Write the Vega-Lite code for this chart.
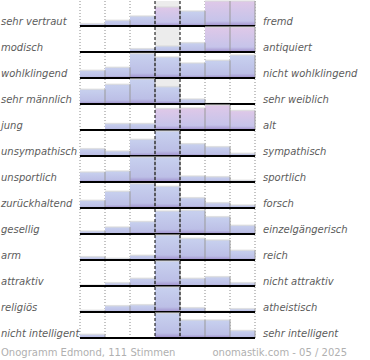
{
  "$schema": "https://vega.github.io/schema/vega-lite/v6.json",
  "padding": {"left": 1, "top": 0, "right": 0, "bottom": 0},
  "autosize": {"type": "pad"},
  "background": "white",
  "data": {"values": [
    {"row":0,"col":0,"v":2.3,"left":"sehr vertraut","right":"fremd"},{"row":0,"col":1,"v":5.7},{"row":0,"col":2,"v":10},{"row":0,"col":3,"v":19},{"row":0,"col":4,"v":15},{"row":0,"col":5,"v":25},{"row":0,"col":6,"v":25},
    {"row":1,"col":0,"v":0,"left":"modisch","right":"antiquiert"},{"row":1,"col":1,"v":0},{"row":1,"col":2,"v":3.3},{"row":1,"col":3,"v":6},{"row":1,"col":4,"v":9.3},{"row":1,"col":5,"v":25},{"row":1,"col":6,"v":25},
    {"row":2,"col":0,"v":7.7,"left":"wohlklingend","right":"nicht wohlklingend"},{"row":2,"col":1,"v":10.7},{"row":2,"col":2,"v":24.5},{"row":2,"col":3,"v":21},{"row":2,"col":4,"v":15},{"row":2,"col":5,"v":17.7},{"row":2,"col":6,"v":23},
    {"row":3,"col":0,"v":14.7,"left":"sehr männlich","right":"sehr weiblich"},{"row":3,"col":1,"v":19.7},{"row":3,"col":2,"v":25},{"row":3,"col":3,"v":17.3},{"row":3,"col":4,"v":5},{"row":3,"col":5,"v":0.8},{"row":3,"col":6,"v":0},
    {"row":4,"col":0,"v":0,"left":"jung","right":"alt"},{"row":4,"col":1,"v":6.5},{"row":4,"col":2,"v":6.5},{"row":4,"col":3,"v":21.5},{"row":4,"col":4,"v":22},{"row":4,"col":5,"v":25},{"row":4,"col":6,"v":19.5},
    {"row":5,"col":0,"v":7.3,"left":"unsympathisch","right":"sympathisch"},{"row":5,"col":1,"v":5},{"row":5,"col":2,"v":16.7},{"row":5,"col":3,"v":25},{"row":5,"col":4,"v":12.3},{"row":5,"col":5,"v":9.3},{"row":5,"col":6,"v":2.7},
    {"row":6,"col":0,"v":10,"left":"unsportlich","right":"sportlich"},{"row":6,"col":1,"v":11},{"row":6,"col":2,"v":25},{"row":6,"col":3,"v":25},{"row":6,"col":4,"v":6},{"row":6,"col":5,"v":5.3},{"row":6,"col":6,"v":1.7},
    {"row":7,"col":0,"v":7.7,"left":"zurückhaltend","right":"forsch"},{"row":7,"col":1,"v":16.7},{"row":7,"col":2,"v":24.3},{"row":7,"col":3,"v":21.7},{"row":7,"col":4,"v":10.3},{"row":7,"col":5,"v":5.3},{"row":7,"col":6,"v":3},
    {"row":8,"col":0,"v":3,"left":"gesellig","right":"einzelgängerisch"},{"row":8,"col":1,"v":7},{"row":8,"col":2,"v":12.5},{"row":8,"col":3,"v":23},{"row":8,"col":4,"v":23.7},{"row":8,"col":5,"v":17.3},{"row":8,"col":6,"v":8.7},
    {"row":9,"col":0,"v":3.3,"left":"arm","right":"reich"},{"row":9,"col":1,"v":1.7},{"row":9,"col":2,"v":4.7},{"row":9,"col":3,"v":25},{"row":9,"col":4,"v":21.7},{"row":9,"col":5,"v":20},{"row":9,"col":6,"v":9.7},
    {"row":10,"col":0,"v":1,"left":"attraktiv","right":"nicht attraktiv"},{"row":10,"col":1,"v":3.3},{"row":10,"col":2,"v":7.7},{"row":10,"col":3,"v":25},{"row":10,"col":4,"v":7.7},{"row":10,"col":5,"v":9.3},{"row":10,"col":6,"v":3.3},
    {"row":11,"col":0,"v":1.7,"left":"religiös","right":"atheistisch"},{"row":11,"col":1,"v":6.3},{"row":11,"col":2,"v":7.3},{"row":11,"col":3,"v":25},{"row":11,"col":4,"v":4.3},{"row":11,"col":5,"v":1},{"row":11,"col":6,"v":3.3},
    {"row":12,"col":0,"v":3.7,"left":"nicht intelligent","right":"sehr intelligent"},{"row":12,"col":1,"v":0},{"row":12,"col":2,"v":0},{"row":12,"col":3,"v":25},{"row":12,"col":4,"v":18},{"row":12,"col":5,"v":18},{"row":12,"col":6,"v":7.5}
  ]},
  "facet": {"row": {"field": "row", "type": "ordinal", "title": null, "header": {"labels": false, "title": null}}},
  "spacing": {"row": 1},
  "bounds": "flush",
  "spec": {
    "width": 175,
    "height": 25,
    "layer": [
      {
        "transform": [{"filter": "datum.col == 3 && (datum.row == 0 || datum.row == 1 || datum.row == 3)"}],
        "mark": {"type": "bar", "color": "#ececec"},
        "encoding": {
          "x": {"field": "col", "type": "ordinal", "scale": {"domain": [0,1,2,3,4,5,6], "paddingInner": 0, "paddingOuter": 0}, "axis": null},
          "y": {"datum": 25, "type": "quantitative", "scale": {"domain": [0, 25]}, "axis": null},
          "y2": {"datum": 0}
        }
      },
      {
        "transform": [{"filter": "datum.col != 3 && datum.col != 4"}],
        "mark": {"type": "rule", "color": "#8a8a8a", "strokeDash": [1, 2], "strokeWidth": 1},
        "encoding": {"x": {"field": "col", "type": "ordinal", "bandPosition": 0, "scale": {"domain": [0,1,2,3,4,5,6], "paddingInner": 0, "paddingOuter": 0}, "axis": null}}
      },
      {
        "transform": [{"filter": "datum.col == 6"}],
        "mark": {"type": "rule", "color": "#8a8a8a", "strokeDash": [1, 2], "strokeWidth": 1},
        "encoding": {"x": {"field": "col", "type": "ordinal", "bandPosition": 1}}
      },
      {
        "transform": [{"filter": "indexof(['0-3','0-5','0-6','1-5','1-6','4-3','4-4','4-5','4-6'], datum.row + '-' + datum.col) < 0"}],
        "mark": {"type": "bar", "color": {"gradient": "linear", "x1": 0, "y1": 0, "x2": 0, "y2": 1, "stops": [{"offset": 0, "color": "#c8d1ef"}, {"offset": 0.8, "color": "#bcbfe6"}, {"offset": 1, "color": "#9e8dcb"}]}},
        "encoding": {
          "x": {"field": "col", "type": "ordinal"},
          "y": {"field": "v", "type": "quantitative", "scale": {"domain": [0, 25]}, "axis": null}
        }
      },
      {
        "transform": [{"filter": "indexof(['0-3','0-5','0-6','1-5','1-6','4-3','4-4','4-5','4-6'], datum.row + '-' + datum.col) >= 0"}],
        "mark": {"type": "bar", "color": {"gradient": "linear", "x1": 0, "y1": 0, "x2": 0, "y2": 1, "stops": [{"offset": 0, "color": "#dfc8e8"}, {"offset": 0.8, "color": "#c6c4ea"}, {"offset": 1, "color": "#9e8dcb"}]}},
        "encoding": {
          "x": {"field": "col", "type": "ordinal"},
          "y": {"field": "v", "type": "quantitative", "scale": {"domain": [0, 25]}, "axis": null}
        }
      },
      {
        "transform": [{"filter": "datum.v > 0"}],
        "mark": {"type": "tick", "color": "#d8d8d8", "thickness": 1.5, "size": 25},
        "encoding": {
          "x": {"field": "col", "type": "ordinal"},
          "y": {"field": "v", "type": "quantitative", "scale": {"domain": [0, 25]}, "axis": null}
        }
      },
      {
        "transform": [{"filter": "datum.v > 0"}],
        "mark": {"type": "rule", "color": "#999999", "strokeWidth": 1},
        "encoding": {
          "x": {"field": "col", "type": "ordinal", "bandPosition": 1},
          "y": {"field": "v", "type": "quantitative", "scale": {"domain": [0, 25]}, "axis": null},
          "y2": {"datum": 0}
        }
      },
      {
        "transform": [{"filter": "datum.col == 0"}],
        "mark": {"type": "rule", "color": "#000000", "strokeWidth": 2},
        "encoding": {"y": {"datum": 0, "type": "quantitative", "scale": {"domain": [0, 25]}, "axis": null}}
      },
      {
        "transform": [{"filter": "datum.col == 3 || datum.col == 4"}],
        "mark": {"type": "rule", "color": "#000000", "strokeDash": [3, 2], "strokeWidth": 1},
        "encoding": {"x": {"field": "col", "type": "ordinal", "bandPosition": 0}}
      },
      {
        "transform": [{"filter": "datum.col == 0"}],
        "mark": {"type": "text", "align": "left", "baseline": "alphabetic", "dx": -79, "dy": -1, "font": "DejaVu Sans", "fontStyle": "italic", "fontSize": 10, "color": "#5c5c5c"},
        "encoding": {
          "x": {"field": "col", "type": "ordinal", "bandPosition": 0},
          "y": {"datum": 0, "type": "quantitative", "scale": {"domain": [0, 25]}, "axis": null},
          "text": {"field": "left"}
        }
      },
      {
        "transform": [{"filter": "datum.col == 0"}],
        "mark": {"type": "text", "align": "left", "baseline": "alphabetic", "dx": 183, "dy": -1, "font": "DejaVu Sans", "fontStyle": "italic", "fontSize": 10, "color": "#5c5c5c"},
        "encoding": {
          "x": {"field": "col", "type": "ordinal", "bandPosition": 0},
          "y": {"datum": 0, "type": "quantitative", "scale": {"domain": [0, 25]}, "axis": null},
          "text": {"field": "right"}
        }
      },
      {
        "transform": [{"filter": "datum.row == 12 && datum.col == 0"}],
        "mark": {"type": "text", "text": "Onogramm Edmond, 111 Stimmen", "align": "left", "baseline": "alphabetic", "dx": -79, "dy": 18, "font": "DejaVu Sans", "fontSize": 10, "color": "#b0b0b0"},
        "encoding": {
          "x": {"field": "col", "type": "ordinal", "bandPosition": 0},
          "y": {"datum": 0, "type": "quantitative", "scale": {"domain": [0, 25]}, "axis": null}
        }
      },
      {
        "transform": [{"filter": "datum.row == 12 && datum.col == 0"}],
        "mark": {"type": "text", "text": "onomastik.com - 05 / 2025", "align": "right", "baseline": "alphabetic", "dx": 267, "dy": 18, "font": "DejaVu Sans", "fontSize": 10, "color": "#b0b0b0"},
        "encoding": {
          "x": {"field": "col", "type": "ordinal", "bandPosition": 0},
          "y": {"datum": 0, "type": "quantitative", "scale": {"domain": [0, 25]}, "axis": null}
        }
      }
    ]
  },
  "config": {"view": {"stroke": null}}
}
